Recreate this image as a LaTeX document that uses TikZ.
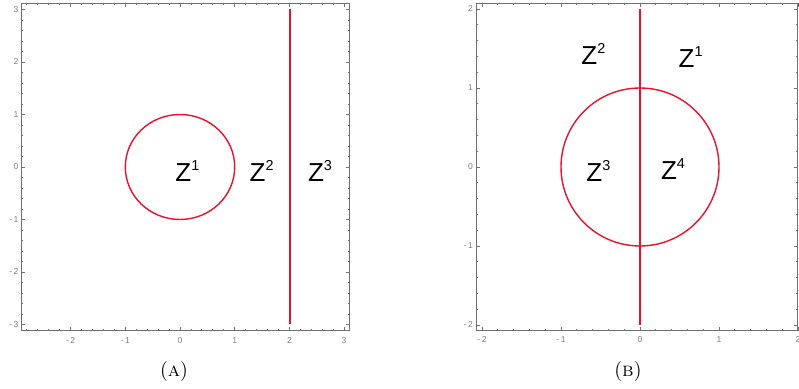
\documentclass[tikz,border=0pt]{standalone}
\usepackage{fontspec}
\setsansfont{Liberation Sans}
\usepackage{xcolor}
\definecolor{curvered}{RGB}{232,18,42}
\definecolor{framegray}{RGB}{112,112,112}
\definecolor{labelgray}{RGB}{125,125,125}

\tikzset{
  plotframe/.style={draw=framegray,line width=0.5pt},
  tickmark/.style={draw=framegray,line width=0.4pt},
  ticklbl/.style={text=labelgray,font=\sffamily\fontsize{4.3}{5}\selectfont,inner sep=0pt},
  regionlbl/.style={font=\sffamily\fontsize{13}{14}\selectfont,inner sep=0pt,anchor=base west},
  curve/.style={draw=curvered,line width=0.7pt},
  capt/.style={font=\fontsize{10}{12}\selectfont,inner sep=0pt,anchor=base}
}
\newcommand{\zlbl}[1]{Z\raisebox{5.5pt}{\fontsize{7.2}{8}\selectfont #1}}
\newcommand{\tlab}[1]{\ifnum#1<0 -\,\the\numexpr-#1\relax\else#1\fi}

\begin{document}
\begin{tikzpicture}[x=0.5pt,y=-0.5pt]
  \useasboundingbox (0,0) rectangle (799,389);
  % plot (A)
  \begin{scope}[shift={(180,167)},x=27.35pt,y=26.25pt]
    \draw[plotframe] (-2.9,-3.12) rectangle (3.1,3.12);
    \foreach \i in {-14,...,15} { \pgfmathsetmacro\tv{\i/5}
      \draw[tickmark] (\tv,-3.12) -- ++(0,1pt); \draw[tickmark] (\tv,3.12) -- ++(0,-1pt); }
    \foreach \i in {-15,...,15} { \pgfmathsetmacro\tv{\i/5}
      \draw[tickmark] (-2.9,\tv) -- ++(1pt,0); \draw[tickmark] (3.1,\tv) -- ++(-1pt,0); }
    \foreach \i in {-2,...,3} {
      \draw[tickmark] (\i,-3.12) -- ++(0,2pt); \draw[tickmark] (\i,3.12) -- ++(0,-2pt);
      \node[ticklbl,anchor=north,yshift=-3pt] (ax\i) at (\i,-3.12) {\tlab{\i}}; }
    \foreach \i in {-3,...,3} {
      \draw[tickmark] (-2.9,\i) -- ++(2pt,0); \draw[tickmark] (3.1,\i) -- ++(-2pt,0);
      \node[ticklbl,anchor=east,xshift=-1.3pt] (ay\i) at (-2.9,\i) {\tlab{\i}}; }
    \draw[curve] (0,0) circle [radius=1];
    \draw[curve] (2.01,-3) -- (2.01,3);
  \end{scope}
  \node[regionlbl] (a1) at (175,181.7) {\zlbl{1}};
  \node[regionlbl] (a2) at (249.3,181.7) {\zlbl{2}};
  \node[regionlbl] (a3) at (307.7,181.7) {\zlbl{3}};
  \node[capt] (captA) at (174,376.7) {(\textsc{a})};
  % plot (B)
  \begin{scope}[shift={(640,167)},x=39.5pt,y=39.5pt]
    \draw[plotframe] (-2.07,-2.07) rectangle (1.995,2.07);
    \foreach \i in {-10,...,10} { \pgfmathsetmacro\tv{\i/5}
      \draw[tickmark] (\tv,-2.07) -- ++(0,1pt); \draw[tickmark] (\tv,2.07) -- ++(0,-1pt);
      \draw[tickmark] (-2.07,\tv) -- ++(1pt,0); \draw[tickmark] (1.995,\tv) -- ++(-1pt,0); }
    \foreach \i in {-2,...,2} {
      \draw[tickmark] (\i,-2.07) -- ++(0,2pt); \draw[tickmark] (\i,2.07) -- ++(0,-2pt);
      \draw[tickmark] (-2.07,\i) -- ++(2pt,0); \draw[tickmark] (1.995,\i) -- ++(-2pt,0);
      \node[ticklbl,anchor=north,yshift=-3pt] (bx\i) at (\i,-2.07) {\tlab{\i}};
      \node[ticklbl,anchor=east,xshift=-1.6pt] (by\i) at (-2.07,\i) {\tlab{\i}}; }
    \draw[curve] (0,0) circle [radius=1];
    \draw[curve] (0,-2) -- (0,2);
  \end{scope}
  \node[regionlbl] (b2) at (581,65) {\zlbl{2}};
  \node[regionlbl] (b1) at (678.3,67.7) {\zlbl{1}};
  \node[regionlbl] (b3) at (586,181.7) {\zlbl{3}};
  \node[regionlbl] (b4) at (660.7,180) {\zlbl{4}};
  \node[capt] (captB) at (628,377) {(\textsc{b})};
\end{tikzpicture}
\end{document}
